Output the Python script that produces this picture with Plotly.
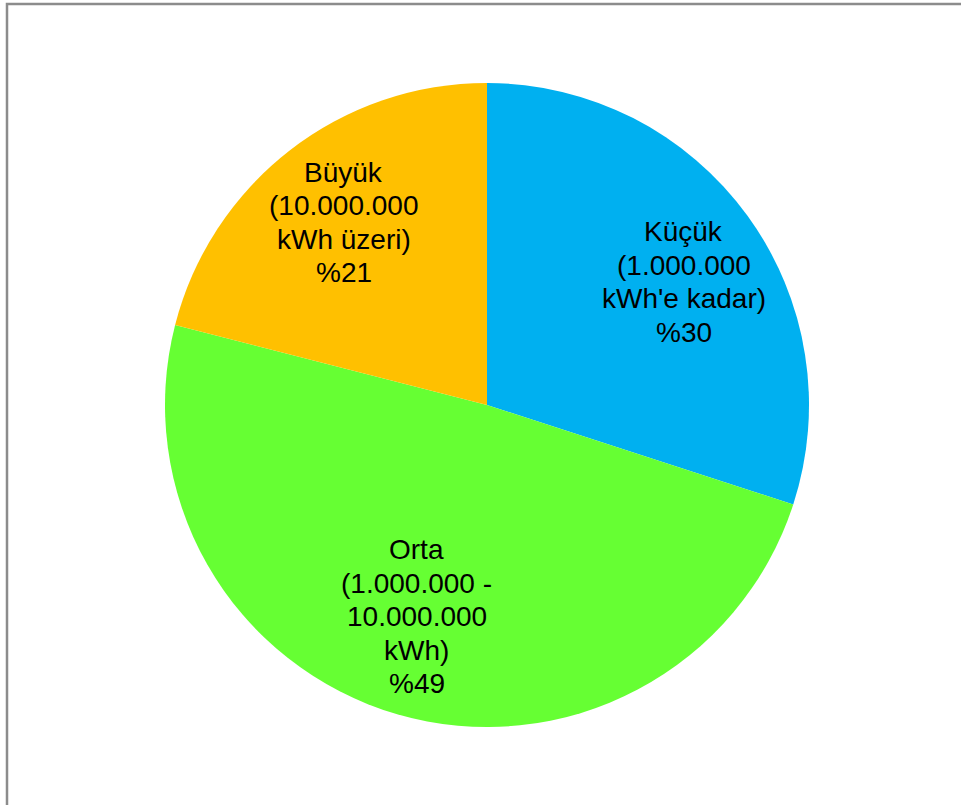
import math
import plotly.graph_objects as go

# Share of consumers by annual consumption class
categories = ["Küçük", "Orta", "Büyük"]
descriptions = [
    ["(1.000.000", "kWh'e kadar)"],
    ["(1.000.000 -", "10.000.000", "kWh)"],
    ["(10.000.000", "kWh üzeri)"],
]
shares = [30, 49, 21]
colors = ["#00B0F0", "#66FF33", "#FFC000"]

W, H = 961, 805
cx, cy, r = 487, 405, 322  # pie centre and radius in px

fig = go.Figure(go.Pie(
    labels=categories,
    values=shares,
    sort=False,
    direction="clockwise",
    rotation=0,
    marker=dict(colors=colors, line=dict(width=0)),
    textinfo="none",
    hoverinfo="label+percent",
    showlegend=False,
    domain=dict(x=[(cx - r) / W, (cx + r) / W], y=[(H - cy - r) / H, (H - cy + r) / H]),
))

# Label blocks sit inside each slice, near its mid angle
label_radius = [0.72, 0.693, 0.72]
label_turn = [4.0, 2.1, -0.3]  # small angular nudges, degrees
line_h = 33.5                   # px between text lines
font = dict(family="Liberation Sans, Arial, sans-serif", size=28, color="#000000")

total = sum(shares)
start = 0.0
annotations = []
for i, (cat, desc, v) in enumerate(zip(categories, descriptions, shares)):
    mid = (start + v / 2) / total * 360 + label_turn[i]
    start += v
    a = math.radians(mid)
    px = cx + label_radius[i] * r * math.sin(a)
    py = cy - label_radius[i] * r * math.cos(a)
    lines = [cat] + desc + [f"%{v}"]
    n = len(lines)
    for k, txt in enumerate(lines):
        ly = py + (k - (n - 1) / 2) * line_h
        annotations.append(dict(
            x=px / W, y=1 - ly / H, xref="paper", yref="paper",
            text=txt, showarrow=False, xanchor="center", yanchor="middle",
            font=font,
        ))

fig.update_layout(
    width=W, height=H,
    margin=dict(l=0, r=0, t=0, b=0),
    paper_bgcolor="#FFFFFF",
    plot_bgcolor="#FFFFFF",
    annotations=annotations,
    shapes=[dict(
        type="rect", xref="paper", yref="paper",
        x0=7 / W, x1=1.05, y0=-0.05, y1=1 - 4 / H,
        line=dict(color="#8C8C8C", width=2.5),
        fillcolor="rgba(0,0,0,0)", layer="above",
    )],
)

fig.write_html("out.html")
